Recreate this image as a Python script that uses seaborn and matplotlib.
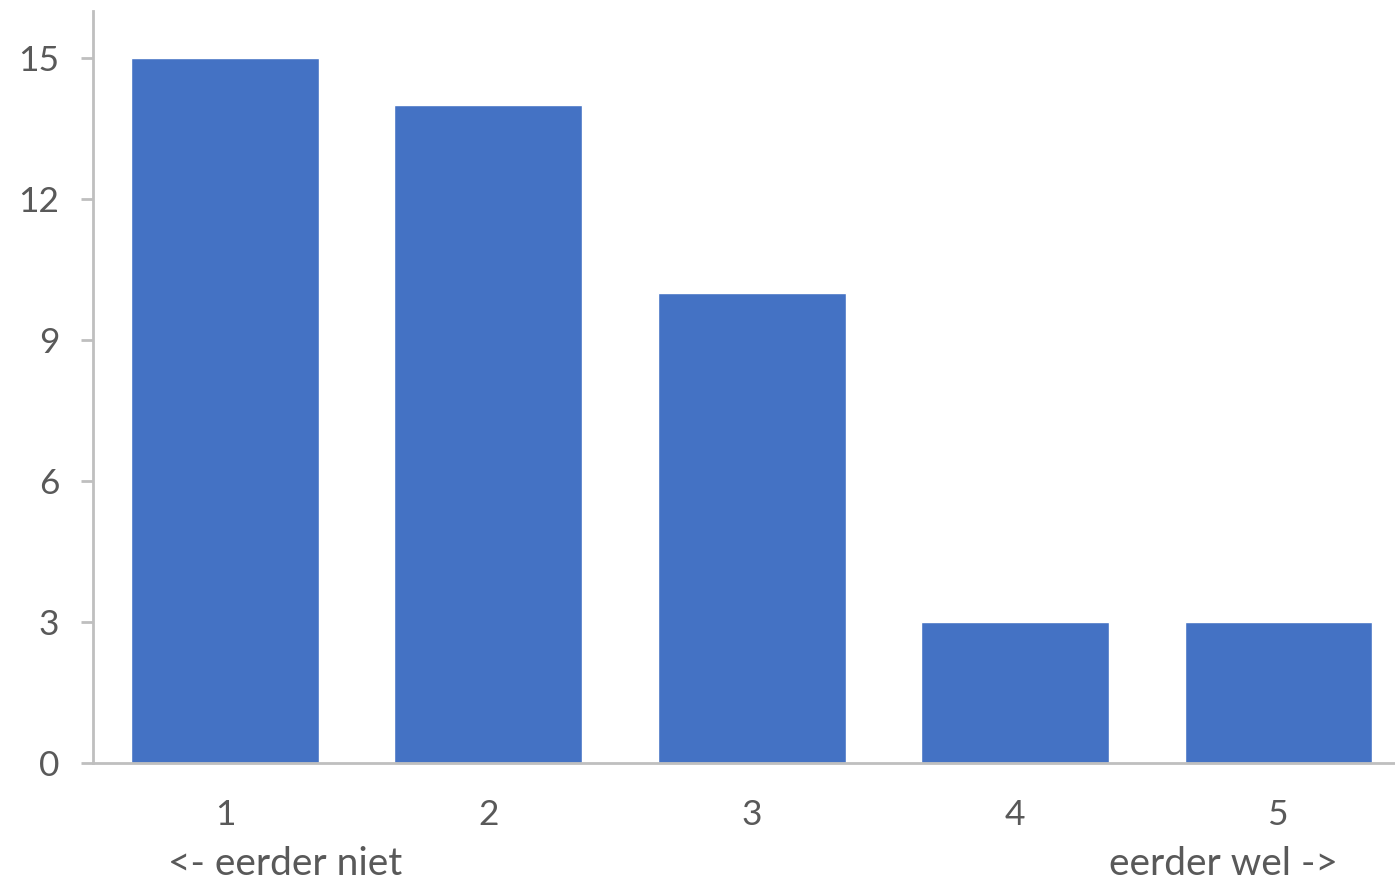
import numpy as np
import pandas as pd
import matplotlib
matplotlib.use("Agg")
import matplotlib.pyplot as plt
import matplotlib.transforms as mtransforms
import seaborn as sns

# data
categories = ["1", "2", "3", "4", "5"]
counts = [15, 14, 10, 3, 3]
y_ticks = [0, 3, 6, 9, 12, 15]
end_labels = ["<- eerder niet", "eerder wel ->"]
end_label_pos = [0.23, 3.79]

df = pd.DataFrame({"score": categories, "count": counts})

sns.set_style("white")
plt.rcParams["font.family"] = ["Lato", "DejaVu Sans"]

text_col = "#595959"
axis_col = "#BFBFBF"

fig = plt.figure(figsize=(13.95, 8.85), dpi=100)
ax = fig.add_axes([0.0669, 0.1379, 0.944, 0.8497])

sns.barplot(data=df, x="score", y="count", order=categories, color="#4472C4",
            width=0.713, saturation=1, ax=ax)

ax.set_ylim(0, 16)
ax.set_xlim(-0.5, 4.5)
ax.set_yticks(y_ticks)
ax.set_xlabel("")
ax.set_ylabel("")

for s in ["top", "right"]:
    ax.spines[s].set_visible(False)
for s in ["left", "bottom"]:
    ax.spines[s].set_color(axis_col)
    ax.spines[s].set_linewidth(2)

ax.tick_params(axis="y", length=8.6, width=2, color=axis_col, pad=16,
               labelsize=25.5, labelcolor=text_col, direction="out", left=True)
ax.tick_params(axis="x", length=0, pad=26, labelsize=25.5, labelcolor=text_col)

# the two end labels sit under bars 1 and 5, a bit off-centre
trans = mtransforms.blended_transform_factory(ax.transData, fig.transFigure)
for lbl, xp in zip(end_labels, end_label_pos):
    ax.text(xp, 1 - 864 / 885, lbl, transform=trans, ha="center", va="center",
            fontsize=28, color=text_col)

fig.savefig("out.png", dpi=100)
